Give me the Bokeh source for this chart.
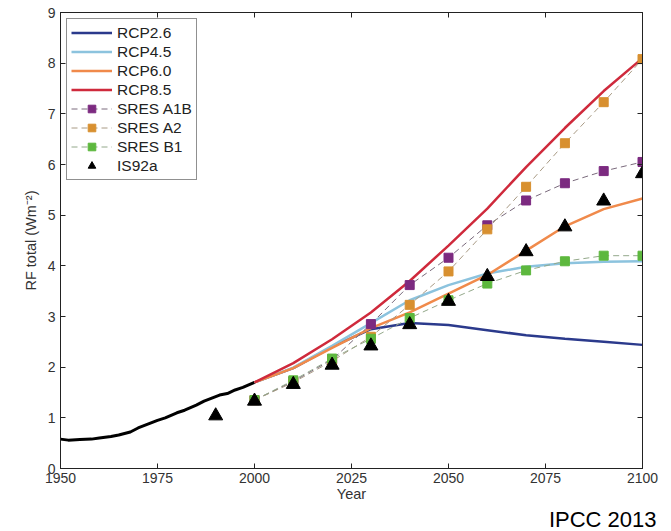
from bokeh.plotting import figure
from bokeh.models import (Legend, LegendItem, LinearAxis, Range1d, FixedTicker, Title,
                          CustomJSTickFormatter)
from bokeh.embed import file_html
from bokeh.resources import INLINE

# ---------------- data ----------------
hist_years = [1950, 1952, 1955, 1958, 1960, 1963, 1965, 1968, 1970, 1973, 1975, 1977,
              1980, 1982, 1985, 1987, 1990, 1991, 1993, 1995, 1997, 2000]
hist_rf = [0.58, 0.56, 0.57, 0.58, 0.60, 0.63, 0.66, 0.72, 0.80, 0.89, 0.95, 1.00,
           1.10, 1.15, 1.25, 1.33, 1.42, 1.45, 1.48, 1.55, 1.60, 1.70]

rcp_years = [2000, 2010, 2020, 2030, 2040, 2050, 2060, 2070, 2080, 2090, 2100]
rcp26 = [1.70, 1.98, 2.40, 2.75, 2.87, 2.83, 2.73, 2.63, 2.56, 2.50, 2.44]
rcp45 = [1.70, 1.99, 2.42, 2.87, 3.32, 3.62, 3.85, 3.98, 4.05, 4.08, 4.09]
rcp60 = [1.70, 1.98, 2.38, 2.77, 3.08, 3.45, 3.82, 4.30, 4.78, 5.12, 5.33]
rcp85 = [1.70, 2.08, 2.55, 3.08, 3.70, 4.40, 5.13, 5.95, 6.72, 7.45, 8.10]

sres_years = [2000, 2010, 2020, 2030, 2040, 2050, 2060, 2070, 2080, 2090, 2100]
sres_a1b = [1.35, 1.72, 2.15, 2.85, 3.62, 4.16, 4.80, 5.29, 5.63, 5.87, 6.05]
sres_a2 = [1.35, 1.70, 2.12, 2.60, 3.23, 3.89, 4.72, 5.56, 6.42, 7.23, 8.08]
sres_b1 = [1.35, 1.74, 2.17, 2.56, 2.97, 3.32, 3.65, 3.91, 4.09, 4.20, 4.20]

is92_years = [1990, 2000, 2010, 2020, 2030, 2040, 2050, 2060, 2070, 2080, 2090, 2100]
is92a = [1.04, 1.33, 1.66, 2.04, 2.42, 2.84, 3.30, 3.79, 4.28, 4.77, 5.28, 5.82]

x_ticks = [1950, 1975, 2000, 2025, 2050, 2075, 2100]
y_ticks = [0, 1, 2, 3, 4, 5, 6, 7, 8, 9]

# ---------------- figure ----------------
FONT = "Liberation Sans"
p = figure(output_backend="svg", toolbar_location=None,
           frame_width=582, frame_height=456,
           min_border_left=60, min_border_right=29, min_border_top=12, min_border_bottom=0,
           x_range=Range1d(1950, 2100), y_range=Range1d(0, 9),
           background_fill_color="white", border_fill_color="white")
p.xgrid.visible = False
p.ygrid.visible = False
p.outline_line_color = "#222222"
p.outline_line_width = 1

for ax in (p.xaxis[0], p.yaxis[0]):
    ax.major_tick_in = 5
    ax.major_tick_out = 0
    ax.minor_tick_line_color = None
    ax.axis_line_color = "#222222"
    ax.major_tick_line_color = "#222222"
    ax.major_label_text_font = FONT
    ax.major_label_text_font_size = "14px"
    ax.major_label_text_color = "#333333"
    ax.axis_label_text_font = FONT
    ax.axis_label_text_font_size = "14.5px"
    ax.axis_label_text_font_style = "normal"
    ax.axis_label_text_color = "#333333"
p.xaxis[0].ticker = FixedTicker(ticks=x_ticks)
p.yaxis[0].ticker = FixedTicker(ticks=y_ticks)
p.xaxis[0].axis_label = "Year"
p.xaxis[0].axis_label_standoff = 0
p.xaxis[0].major_label_standoff = 4
p.yaxis[0].axis_label = "RF total (Wm\u207b\u00b2)"
p.yaxis[0].axis_label_standoff = 6
p.yaxis[0].major_label_standoff = 5

# mirrored axes (ticks only, no labels)
blank = CustomJSTickFormatter(code="return ''")
top = LinearAxis(ticker=FixedTicker(ticks=x_ticks), formatter=blank,
                 major_tick_in=5, major_tick_out=0, minor_tick_line_color=None,
                 axis_line_color="#222222", major_tick_line_color="#222222")
right = LinearAxis(ticker=FixedTicker(ticks=y_ticks), formatter=blank,
                   major_tick_in=5, major_tick_out=0, minor_tick_line_color=None,
                   axis_line_color="#222222", major_tick_line_color="#222222")
p.add_layout(top, "above")
p.add_layout(right, "right")

# ---------------- series ----------------
C26, C45, C60, C85 = "#2b3a8c", "#8cc3de", "#f08a4b", "#cf2a3c"
CA1B, CA2, CB1 = "#7c2a80", "#d89030", "#5db83e"

p.line(hist_years, hist_rf, line_color="black", line_width=3)
r26 = p.line(rcp_years, rcp26, line_color=C26, line_width=2.5)
r45 = p.line(rcp_years, rcp45, line_color=C45, line_width=2.5)
r60 = p.line(rcp_years, rcp60, line_color=C60, line_width=2.5)
r85 = p.line(rcp_years, rcp85, line_color=C85, line_width=2.5)

la1b = p.line(sres_years, sres_a1b, line_color="#7a6a7c", line_width=1, line_dash="6 4")
la2 = p.line(sres_years, sres_a2, line_color="#a89a84", line_width=1, line_dash="6 4")
lb1 = p.line(sres_years, sres_b1, line_color="#93a88a", line_width=1, line_dash="6 4")
sa1b = p.scatter(sres_years, sres_a1b, marker="square", size=9, fill_color=CA1B, line_color=CA1B)
sa2 = p.scatter(sres_years, sres_a2, marker="square", size=9, fill_color=CA2, line_color=CA2)
sb1 = p.scatter(sres_years, sres_b1, marker="square", size=9, fill_color=CB1, line_color=CB1)
tri = p.scatter(is92_years, is92a, marker="triangle", size=14, fill_color="black", line_color="black")

legend = Legend(items=[
    LegendItem(label="RCP2.6", renderers=[r26]),
    LegendItem(label="RCP4.5", renderers=[r45]),
    LegendItem(label="RCP6.0", renderers=[r60]),
    LegendItem(label="RCP8.5", renderers=[r85]),
    LegendItem(label="SRES A1B", renderers=[la1b, sa1b]),
    LegendItem(label="SRES A2", renderers=[la2, sa2]),
    LegendItem(label="SRES B1", renderers=[lb1, sb1]),
    LegendItem(label="IS92a", renderers=[tri]),
], location="top_left")
legend.label_text_font = FONT
legend.label_text_font_size = "15.5px"
legend.label_text_color = "#222222"
legend.glyph_width = 41
legend.glyph_height = 19
legend.label_height = 19
legend.spacing = 0
legend.padding = 4
legend.margin = 6
legend.border_line_color = "#222222"
legend.border_line_width = 1
legend.label_standoff = 5
p.add_layout(legend, "center")

p.add_layout(Title(text="IPCC 2013", align="right", text_font=FONT, text_font_size="22px",
                   text_font_style="normal", text_color="black", standoff=0, offset=-14),
             "below")

open("out.html", "w").write(file_html(p, INLINE))
